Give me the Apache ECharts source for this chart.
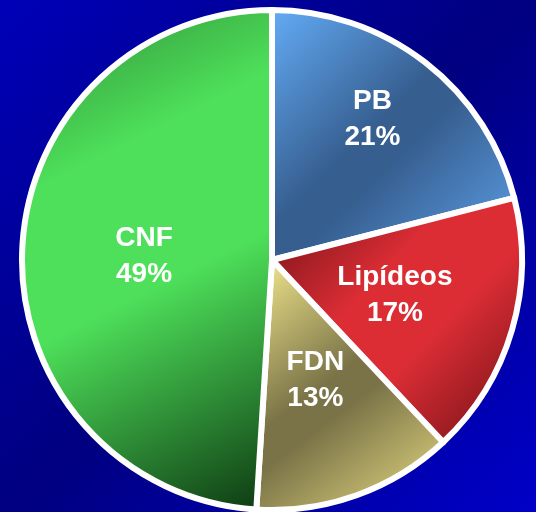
<!DOCTYPE html>
<html>
<head>
<meta charset="utf-8">
<title>Composição</title>
<script src="https://cdn.jsdelivr.net/npm/echarts@6/dist/echarts.min.js"></script>
<style>
    html, body {
        margin: 0;
        padding: 0;
        width: 536px;
        height: 512px;
        overflow: hidden;
    }
    #main {
        width: 536px;
        height: 512px;
        background: linear-gradient(135deg, #0000b8 0%, #000080 50%, #0000c8 100%);
    }
</style>
</head>
<body>
<div id="main"></div>
<script>
// nomes das fatias, no sentido horário a partir do topo
var names = ['PB', 'Lipídeos', 'FDN', 'CNF'];
// percentuais
var values = [21, 17, 13, 49];
// cores de cada fatia: [canto sup. esquerdo, meio, canto inf. direito]
var colorStops = [
    ['#64adf8', '#365e8f', '#5fa3ec'],
    ['#6a1014', '#dc2d35', '#6a1014'],
    ['#f7ec90', '#7a7347', '#ece086'],
    ['#2f8a36', '#4ee05a', '#0c3510']
];
// faixa do meio de cada gradiente [início, fim]
var midBands = [
    [0.45, 0.55],
    [0.38, 0.6],
    [0.45, 0.55],
    [0.3, 0.55]
];

/**
 * gradiente diagonal de uma fatia
 */
function sliceGradient(stops, band) {
    return new echarts.graphic.LinearGradient(0, 0, 1, 1, [
        {offset: 0, color: stops[0]},
        {offset: band[0], color: stops[1]},
        {offset: band[1], color: stops[1]},
        {offset: 1, color: stops[2]}
    ]);
}

var data = [];
for (var i = 0; i < names.length; i++) {
    data.push({
        name: names[i],
        value: values[i],
        itemStyle: {color: sliceGradient(colorStops[i], midBands[i])}
    });
}

var option = {
    animation: false,
    series: [{
        type: 'pie',
        center: [272, 260],
        radius: [0, 250],
        startAngle: 90,
        clockwise: true,
        avoidLabelOverlap: false,
        itemStyle: {
            borderColor: '#ffffff',
            borderWidth: 6
        },
        label: {
            show: true,
            position: 'inside',
            formatter: '{b}\n{c}%',
            color: '#ffffff',
            fontFamily: 'Liberation Sans, Arial, sans-serif',
            fontWeight: 'bold',
            fontSize: 28,
            lineHeight: 36,
            textBorderWidth: 0
        },
        // o rótulo do PB fica mais para fora
        labelLayout: function (params) {
            if (params.dataIndex === 0) {
                return {dx: 22, dy: -40};
            }
            return {};
        },
        labelLine: {show: false},
        emphasis: {disabled: true},
        data: data
    }]
};

var myChart = echarts.init(document.getElementById('main'));
myChart.setOption(option);
</script>
</body>
</html>
